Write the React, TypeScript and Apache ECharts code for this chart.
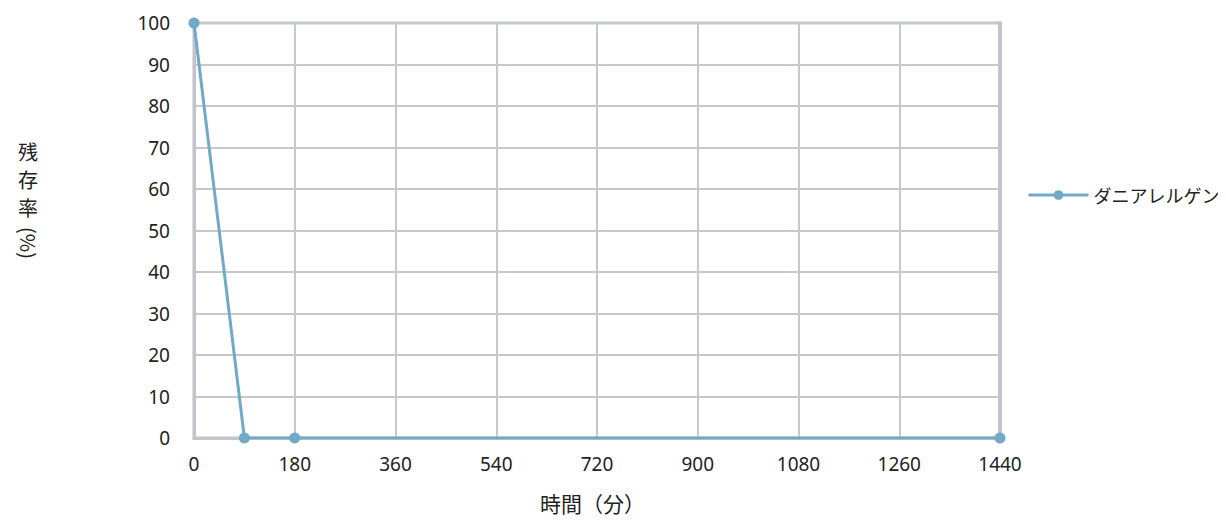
import React, { useEffect, useRef } from "react";
import * as echarts from "echarts";

const seriesName = "ダニアレルゲン";
const timeMinutes = [0, 90, 180, 1440];
const survivalRate = [100, 0, 0, 0];
const xAxisTitle = "時間（分）";
const yAxisTitleChars = ["残", "存", "率"];
const yAxisTitleUnit = "(%)";

const FONT = "'Noto Sans CJK JP', 'Noto Sans', sans-serif";
const NUM_FONT = "'Noto Sans', 'Noto Sans CJK JP', sans-serif";
const COLOR = "#72a9c8";

export default function App() {
  const ref = useRef<HTMLDivElement>(null);
  useEffect(() => {
    if (!ref.current) return;
    const chart = echarts.init(ref.current, undefined, { renderer: "svg" });
    const data = timeMinutes.map((t, i) => [t, survivalRate[i]]);
    const charTops = [141, 169, 197];
    chart.setOption({
      animation: false,
      textStyle: { fontFamily: FONT },
      grid: {
        left: 194,
        right: 226,
        top: 23,
        bottom: 86,
        show: true,
        borderColor: "#c2c4ca",
        borderWidth: 3,
      },
      legend: {
        orient: "vertical",
        left: 1022,
        top: 181,
        itemWidth: 60,
        itemHeight: 12,
        itemGap: 10,
        lineStyle: { width: 3, color: COLOR },
        itemStyle: { color: COLOR },
        textStyle: { fontSize: 18, color: "#222", fontFamily: FONT },
        data: [seriesName],
      },
      xAxis: {
        type: "value",
        min: 0,
        max: 1440,
        interval: 180,
        axisLine: { show: true, lineStyle: { color: "#c2c4ca", width: 3 } },
        axisTick: { show: false },
        splitLine: { show: true, lineStyle: { color: "#c6c8ce", width: 2 } },
        axisLabel: {
          fontSize: 19,
          color: "#222",
          margin: 16,
          fontFamily: NUM_FONT,
          formatter: (v: number) => String(v),
        },
      },
      yAxis: [
        {
          type: "value",
          min: 0,
          max: 100,
          interval: 10,
          axisLine: { show: true, lineStyle: { color: "#c2c4ca", width: 3 } },
          axisTick: { show: false },
          splitLine: { show: true, lineStyle: { color: "#c6c8ce", width: 2 } },
          axisLabel: { fontSize: 19, color: "#222", margin: 24, fontFamily: NUM_FONT },
        },
        {
          type: "value",
          min: 0,
          max: 100,
          interval: 10,
          position: "right",
          axisLine: { show: true, lineStyle: { color: "#c2c4ca", width: 4 } },
          axisTick: { show: false },
          splitLine: { show: false },
          axisLabel: { show: false },
        },
      ],
      graphic: [
        ...yAxisTitleChars.map((c, i) => ({
          type: "text",
          left: 18,
          top: charTops[i],
          style: { text: c, fontSize: 20, fill: "#222", fontFamily: FONT },
        })),
        {
          type: "text",
          x: 38,
          y: 227,
          rotation: -Math.PI / 2,
          style: {
            text: yAxisTitleUnit,
            fontSize: 20,
            fill: "#222",
            fontFamily: FONT,
          },
        },
        {
          type: "text",
          left: 540,
          top: 492,
          style: {
            text: xAxisTitle,
            fontSize: 21,
            fill: "#222",
            fontFamily: FONT,
          },
        },
      ],
      series: [
        {
          name: seriesName,
          type: "line",
          data,
          yAxisIndex: 0,
          symbol: "circle",
          symbolSize: 11,
          lineStyle: { color: COLOR, width: 3 },
          itemStyle: { color: COLOR },
        },
      ],
    });
    return () => chart.dispose();
  }, []);
  return <div ref={ref} style={{ width: 1226, height: 524, margin: -8 }} />;
}
